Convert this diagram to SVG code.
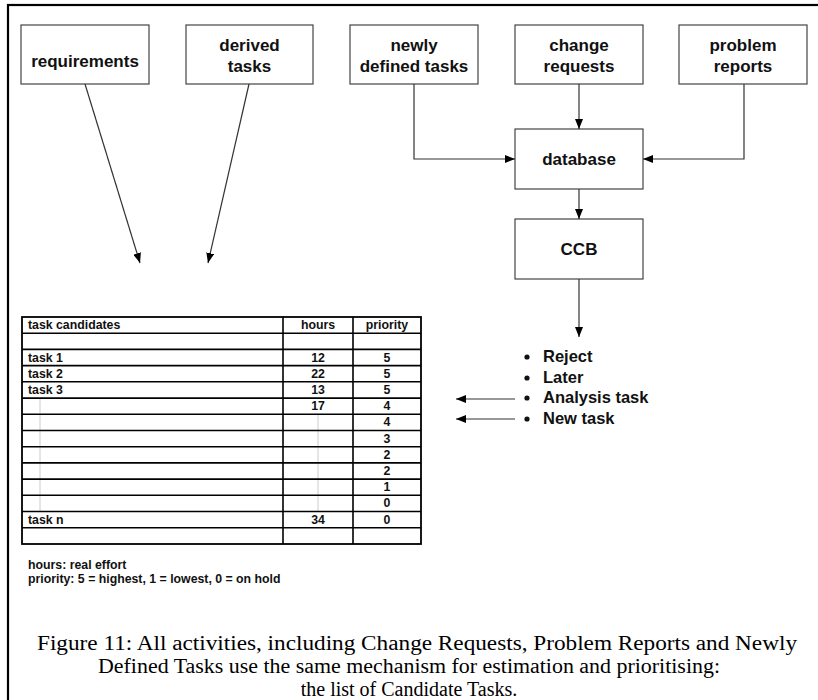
<svg xmlns="http://www.w3.org/2000/svg" width="818" height="700" viewBox="0 0 818 700">
<style>
.box{fill:#fff;stroke:#444;stroke-width:1.2}
.lbl{font-family:"Liberation Sans",Arial,Helvetica,sans-serif;font-weight:bold;font-size:17px;fill:#111;text-anchor:middle}
.con{fill:none;stroke:#333;stroke-width:1.2}
.tl{stroke:#000;stroke-width:1.6}
.gl{stroke:#ccc;stroke-width:1}
.tt{font-family:"Liberation Sans",Arial,Helvetica,sans-serif;font-weight:bold;font-size:12.3px;fill:#111}
.c{text-anchor:middle}
.bul{font-family:"Liberation Sans",Arial,Helvetica,sans-serif;font-weight:bold;font-size:16.5px;fill:#111}
.cap{font-family:"Liberation Serif","Times New Roman",serif;font-size:20px;fill:#000;text-anchor:middle}
</style>
<defs>
<marker id="ah" viewBox="0 0 10 8" refX="10" refY="4" markerWidth="10" markerHeight="8" markerUnits="userSpaceOnUse" orient="auto">
<path d="M0,0 L10,4 L0,8 Z" fill="#000"/>
</marker>
</defs>
<rect x="0" y="0" width="818" height="700" fill="#fff"/>
<rect x="8" y="5" width="830" height="720" fill="none" stroke="#000" stroke-width="2.2"/>

<g id="requirements"><rect class="box" x="21" y="25" width="128" height="59"/><text class="lbl" x="85" y="67">requirements</text></g>
<g id="derived-tasks"><rect class="box" x="186" y="25" width="127" height="59"/><text class="lbl" x="249.5" y="51">derived</text><text class="lbl" x="249.5" y="72">tasks</text></g>
<g id="newly-defined-tasks"><rect class="box" x="350" y="25" width="128" height="59"/><text class="lbl" x="414" y="51">newly</text><text class="lbl" x="414" y="72">defined tasks</text></g>
<g id="change-requests"><rect class="box" x="515" y="25" width="128" height="59"/><text class="lbl" x="579" y="51">change</text><text class="lbl" x="579" y="72">requests</text></g>
<g id="problem-reports"><rect class="box" x="679" y="25" width="128" height="59"/><text class="lbl" x="743" y="51">problem</text><text class="lbl" x="743" y="72">reports</text></g>
<g id="database"><rect class="box" x="515" y="129" width="128" height="60"/><text class="lbl" x="579" y="165">database</text></g>
<g id="ccb"><rect class="box" x="515" y="219" width="128" height="60"/><text class="lbl" x="579" y="255">CCB</text></g>

<g id="connectors">
<line class="con" x1="85" y1="84" x2="140" y2="263" marker-end="url(#ah)"/>
<line class="con" x1="249" y1="84" x2="208" y2="263" marker-end="url(#ah)"/>
<line class="con" x1="579" y1="84" x2="579" y2="129" marker-end="url(#ah)"/>
<polyline class="con" points="414,84 414,159 515,159" marker-end="url(#ah)"/>
<polyline class="con" points="744,84 744,159 643,159" marker-end="url(#ah)"/>
<line class="con" x1="579" y1="189" x2="579" y2="219" marker-end="url(#ah)"/>
<line class="con" x1="579" y1="279" x2="579" y2="337" marker-end="url(#ah)"/>
<line class="con" x1="515" y1="399" x2="456" y2="399" marker-end="url(#ah)"/>
<line class="con" x1="515" y1="419" x2="456" y2="419" marker-end="url(#ah)"/>
</g>

<g id="outcomes">
<circle cx="527" cy="357" r="2.6" fill="#111"/><text class="bul" x="543" y="362">Reject</text>
<circle cx="527" cy="378" r="2.6" fill="#111"/><text class="bul" x="543" y="383">Later</text>
<circle cx="527" cy="398" r="2.6" fill="#111"/><text class="bul" x="543" y="403">Analysis task</text>
<circle cx="527" cy="419" r="2.6" fill="#111"/><text class="bul" x="543" y="424">New task</text>
</g>

<g id="task-table">
<line class="gl" x1="40" y1="398" x2="40" y2="511.5"/>
<line class="gl" x1="318" y1="414.3" x2="318" y2="511.5"/>
<rect x="22" y="317" width="399" height="227" fill="none" stroke="#000" stroke-width="1.8"/>
<line class="tl" x1="283" y1="317" x2="283" y2="544"/>
<line class="tl" x1="353" y1="317" x2="353" y2="544"/>
<line class="tl" x1="22" y1="333.2" x2="421" y2="333.2"/>
<line class="tl" x1="22" y1="349.4" x2="421" y2="349.4"/>
<line class="tl" x1="22" y1="365.6" x2="421" y2="365.6"/>
<line class="tl" x1="22" y1="381.8" x2="421" y2="381.8"/>
<line class="tl" x1="22" y1="398.1" x2="421" y2="398.1"/>
<line class="tl" x1="22" y1="414.3" x2="421" y2="414.3"/>
<line class="tl" x1="22" y1="430.5" x2="421" y2="430.5"/>
<line class="tl" x1="22" y1="446.7" x2="421" y2="446.7"/>
<line class="tl" x1="22" y1="462.9" x2="421" y2="462.9"/>
<line class="tl" x1="22" y1="479.1" x2="421" y2="479.1"/>
<line class="tl" x1="22" y1="495.3" x2="421" y2="495.3"/>
<line class="tl" x1="22" y1="511.5" x2="421" y2="511.5"/>
<line class="tl" x1="22" y1="527.7" x2="421" y2="527.7"/>
<text class="tt" x="28" y="329">task candidates</text>
<text class="tt c" x="318" y="329">hours</text>
<text class="tt c" x="387" y="329">priority</text>
<text class="tt" x="28" y="361.5">task 1</text><text class="tt c" x="318" y="361.5">12</text><text class="tt c" x="387" y="361.5">5</text>
<text class="tt" x="28" y="377.7">task 2</text><text class="tt c" x="318" y="377.7">22</text><text class="tt c" x="387" y="377.7">5</text>
<text class="tt" x="28" y="393.9">task 3</text><text class="tt c" x="318" y="393.9">13</text><text class="tt c" x="387" y="393.9">5</text>
<text class="tt c" x="318" y="410.1">17</text><text class="tt c" x="387" y="410.1">4</text>
<text class="tt c" x="387" y="426.3">4</text>
<text class="tt c" x="387" y="442.5">3</text>
<text class="tt c" x="387" y="458.7">2</text>
<text class="tt c" x="387" y="474.9">2</text>
<text class="tt c" x="387" y="491.1">1</text>
<text class="tt c" x="387" y="507.3">0</text>
<text class="tt" x="28" y="523.5">task n</text><text class="tt c" x="318" y="523.5">34</text><text class="tt c" x="387" y="523.5">0</text>
</g>

<g id="legend">
<text class="tt" x="28" y="569">hours: real effort</text>
<text class="tt" x="28" y="583">priority: 5 = highest, 1 = lowest, 0 = on hold</text>
</g>

<g id="caption">
<text class="cap" x="417" y="650" textLength="760" lengthAdjust="spacingAndGlyphs">Figure 11: All activities, including Change Requests, Problem Reports and Newly</text>
<text class="cap" x="409" y="673" textLength="622" lengthAdjust="spacingAndGlyphs">Defined Tasks use the same mechanism for estimation and prioritising:</text>
<text class="cap" x="409" y="696">the list of Candidate Tasks.</text>
</g>
</svg>
